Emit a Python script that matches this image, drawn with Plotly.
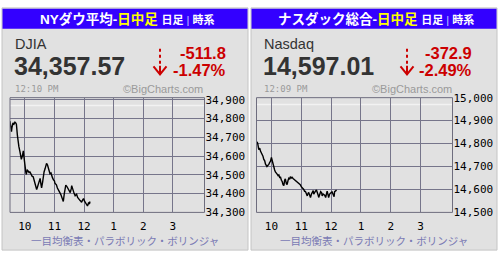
import plotly.graph_objects as go

W, H = 500, 259

# ---------------- data ----------------
dow_minutes = [0, 1.5, 3, 4, 6, 8, 10, 12, 13, 15, 16, 18, 20, 22, 23, 25, 27, 29, 30, 32, 33, 35, 37, 39, 40,
               42, 43, 45, 47, 49, 50, 52, 54, 56, 57, 59, 61, 63, 64, 66, 67, 69, 71, 73, 74, 76, 77, 80, 81,
               83, 84, 86, 88, 90, 91, 93, 94, 96, 98, 100, 101, 103, 105, 107, 108, 110, 111, 113, 115, 117,
               118, 120, 122, 124, 125, 127, 128, 130, 132, 134, 135, 137, 139, 141, 142, 144, 145, 147, 149,
               151, 152, 154, 155, 157, 159, 161, 162]
dow_values = [34786, 34760, 34730, 34752, 34777, 34770, 34780, 34775, 34769, 34710, 34676, 34650, 34625, 34600,
              34583, 34600, 34628, 34580, 34540, 34515, 34503, 34525, 34520, 34510, 34518, 34505, 34508, 34492,
              34490, 34470, 34456, 34440, 34422, 34438, 34447, 34462, 34481, 34445, 34430, 34460, 34490, 34515,
              34532, 34550, 34561, 34552, 34544, 34525, 34506, 34510, 34498, 34485, 34473, 34468, 34456, 34452,
              34447, 34430, 34422, 34415, 34405, 34395, 34380, 34365, 34358, 34400, 34430, 34445, 34439, 34430,
              34422, 34410, 34405, 34425, 34442, 34425, 34413, 34400, 34388, 34392, 34396, 34380, 34371, 34368,
              34363, 34358, 34354, 34365, 34374, 34360, 34354, 34345, 34340, 34334, 34350, 34345, 34358]

nas_minutes = [1, 2.5, 4.5, 6.5, 8, 10, 11, 13, 14.5, 16.5, 18, 20, 21, 23, 24.5, 26.5, 28, 30, 32, 33.5, 35,
               36.5, 38, 40, 41.5, 43.5, 45, 47, 48, 50, 51.5, 53.5, 55, 56.5, 58, 60, 61.5, 63.5, 65, 67, 68,
               70, 71.5, 73.5, 75, 77, 78, 80, 81.5, 83.5, 85, 87, 88, 90, 92, 94, 95, 97, 98, 100.5, 102, 104,
               105, 107, 108.5, 110.5, 112, 114, 115, 117, 118.5, 120.5, 122, 124, 125, 127, 129, 131, 132,
               134, 135, 137, 139, 141, 142, 144, 145, 147, 149, 151, 152, 154, 156, 157, 159, 161]
nas_values = [14808, 14800, 14774, 14780, 14767, 14760, 14753, 14745, 14732, 14725, 14711, 14706, 14700, 14705,
              14708, 14718, 14722, 14739, 14722, 14700, 14690, 14685, 14676, 14672, 14667, 14660, 14663, 14650,
              14656, 14640, 14635, 14620, 14617, 14640, 14646, 14625, 14621, 14640, 14649, 14645, 14656, 14650,
              14653, 14648, 14645, 14640, 14638, 14635, 14633, 14630, 14628, 14620, 14621, 14612, 14607, 14600,
              14600, 14590, 14593, 14580, 14572, 14585, 14586, 14575, 14565, 14580, 14586, 14595, 14579, 14590,
              14593, 14598, 14590, 14575, 14565, 14585, 14590, 14585, 14572, 14580, 14579, 14575, 14565, 14585,
              14593, 14575, 14565, 14580, 14586, 14588, 14589, 14575, 14568, 14590, 14595, 14597]

hour_ticks = [30, 90, 150, 210, 270, 330]
hour_labels = ["10", "11", "12", "1", "2", "3"]

dow_ticks = [34300, 34400, 34500, 34600, 34700, 34800, 34900]
nas_ticks = [14500, 14600, 14700, 14800, 14900, 15000]

dow_last, dow_chg, dow_pct, dow_prev = "34,357.57", "-511.8", "-1.47%", 34869.37
nas_last, nas_chg, nas_pct, nas_prev = "14,597.01", "-372.9", "-2.49%", 14969.91

# ---------------- helpers ----------------
def px(x):
    return x / W


def py(y):
    return 1 - y / H


JP = "Liberation Sans, Noto Sans CJK JP"
PANEL_BG = "#e1e1e1"
PLOT_BG = "#9998a8"
GRID = "#76758a"
RED = "#cc0000"

fig = go.Figure()
fig.add_trace(go.Scatter(x=dow_minutes, y=dow_values, mode="lines",
                         line=dict(color="#000000", width=1.4), xaxis="x", yaxis="y",
                         showlegend=False, hoverinfo="skip"))
fig.add_trace(go.Scatter(x=nas_minutes, y=nas_values, mode="lines",
                         line=dict(color="#000000", width=1.4), xaxis="x2", yaxis="y2",
                         showlegend=False, hoverinfo="skip"))

tickfont = dict(family="DejaVu Sans Mono", size=11, color="#000000")

xcommon = dict(range=[0, 394], tickvals=hour_ticks, ticktext=hour_labels, showgrid=True,
               gridcolor=GRID, gridwidth=1, zeroline=False, showline=False, ticks="outside",
               ticklen=3, tickcolor=PANEL_BG, tickfont=tickfont, fixedrange=True)
ycommon = dict(side="right", showgrid=True, gridcolor=GRID, gridwidth=1, zeroline=False,
               showline=False, ticks="", tickformat=",d", tickfont=tickfont, fixedrange=True)

panels = [
    dict(x0=2, x1=248, name="NYダウ平均-", sym="DJIA", last=dow_last,
         chg=dow_chg, pct=dow_pct, prev=dow_prev, time="12:10 PM", xa="x", ya="y",
         arrow_x=160, red_right=228),
    dict(x0=251, x1=497, name="ナスダック総合-", sym="Nasdaq", last=nas_last,
         chg=nas_chg, pct=nas_pct, prev=nas_prev, time="12:09 PM", xa="x2", ya="y2",
         arrow_x=407, red_right=474),
]

plot_top, plot_bot = 96.5, 217.3

fig.update_layout(
    width=W, height=H, margin=dict(l=0, r=0, t=0, b=0),
    paper_bgcolor="#ffffff", plot_bgcolor=PLOT_BG, showlegend=False,
    xaxis=dict(domain=[px(10), px(204.5)], anchor="y", **xcommon),
    yaxis=dict(domain=[py(plot_bot), py(plot_top)], anchor="x", range=[34300, 34911],
               tickvals=dow_ticks, **ycommon),
    xaxis2=dict(domain=[px(256.5), px(452.5)], anchor="y2", **xcommon),
    yaxis2=dict(domain=[py(plot_bot), py(plot_top)], anchor="x2", range=[14500, 15000],
                tickvals=nas_ticks, **ycommon),
)

shapes = []
annotations = []
for p in panels:
    x0, x1 = p["x0"], p["x1"]
    cx = (x0 + x1) / 2
    shapes.append(dict(type="rect", xref="paper", yref="paper", x0=px(x0), x1=px(x1), y0=py(257), y1=py(2),
                       fillcolor=PANEL_BG, line=dict(color="#c4c4c4", width=1), layer="below"))
    shapes.append(dict(type="rect", xref="paper", yref="paper", x0=px(x0 + 0.5), x1=px(x1 - 0.5),
                       y0=py(24), y1=py(3), fillcolor="#3300ff", line=dict(width=0), layer="below"))
    shapes.append(dict(type="rect", xref=p["xa"] + " domain", yref=p["ya"] + " domain", x0=0, x1=1, y0=0, y1=1,
                       line=dict(color="#6e6d7e", width=1), layer="above"))
    shapes.append(dict(type="line", xref=p["xa"] + " domain", yref=p["ya"], x0=0, x1=1,
                       y0=p["prev"], y1=p["prev"], line=dict(color="#f2f2f2", width=1.5), layer="below"))
    ax = p["arrow_x"]
    shapes.append(dict(type="line", xref="paper", yref="paper", x0=px(ax), x1=px(ax), y0=py(45), y1=py(63),
                       line=dict(color=RED, width=2, dash="dot")))
    shapes.append(dict(type="line", xref="paper", yref="paper", x0=px(ax), x1=px(ax), y0=py(63), y1=py(72),
                       line=dict(color=RED, width=2)))
    shapes.append(dict(type="path", xref="paper", yref="paper",
                       path=f"M {px(ax-6.5)} {py(63.5)} L {px(ax)} {py(72)} L {px(ax+6.5)} {py(63.5)}",
                       line=dict(color=RED, width=2)))

    annotations.append(dict(
        xref="paper", yref="paper", x=px(cx + 2), y=py(14), xanchor="center", yanchor="middle",
        showarrow=False,
        text=(f"<b>{p['name']}<span style='color:#ffff00'>日中足</span></b>"
              f" <span style='font-size:11px'><b>日足</b> <span style='color:#c8c8ff'>|</span> <b>時系</b></span>"),
        font=dict(family=JP, size=13.5, color="#ffffff")))
    annotations.append(dict(xref="paper", yref="paper", x=px(x0 + 11), y=py(40), xanchor="left",
                            yanchor="middle", showarrow=False, text=p["sym"],
                            font=dict(family="Liberation Sans", size=14.5, color="#333333")))
    annotations.append(dict(xref="paper", yref="paper", x=px(x0 + 9.5), y=py(63), xanchor="left",
                            yanchor="middle", showarrow=False, text=f"<b>{p['last']}</b>",
                            font=dict(family="Liberation Sans", size=25, color="#333333")))
    annotations.append(dict(xref="paper", yref="paper", x=px(p["red_right"]), y=py(49), xanchor="right",
                            yanchor="middle", showarrow=False, text=f"<b>{p['chg']}</b>",
                            font=dict(family="Liberation Sans", size=16.5, color=RED)))
    annotations.append(dict(xref="paper", yref="paper", x=px(p["red_right"]), y=py(67), xanchor="right",
                            yanchor="middle", showarrow=False, text=f"<b>{p['pct']}</b>",
                            font=dict(family="Liberation Sans", size=16.5, color=RED)))
    annotations.append(dict(xref="paper", yref="paper", x=px(x0 + 10.5), y=py(87), xanchor="left",
                            yanchor="middle", showarrow=False, text=p["time"],
                            font=dict(family="DejaVu Sans Mono", size=9, color="#9a9a9a")))
    annotations.append(dict(xref="paper", yref="paper", x=px(x0 + 203), y=py(87), xanchor="right",
                            yanchor="middle", showarrow=False, text="©BigCharts.com",
                            font=dict(family="Liberation Sans", size=11, color="#9a9a9a")))
    annotations.append(dict(xref="paper", yref="paper", x=px(cx), y=py(247), xanchor="center",
                            yanchor="middle", showarrow=False, text="一目均衡表・パラボリック・ボリンジャ",
                            font=dict(family="Noto Sans CJK JP", size=10.5, color="#7a7ab4")))

fig.update_layout(shapes=shapes, annotations=annotations)
fig.write_html("out.html")
